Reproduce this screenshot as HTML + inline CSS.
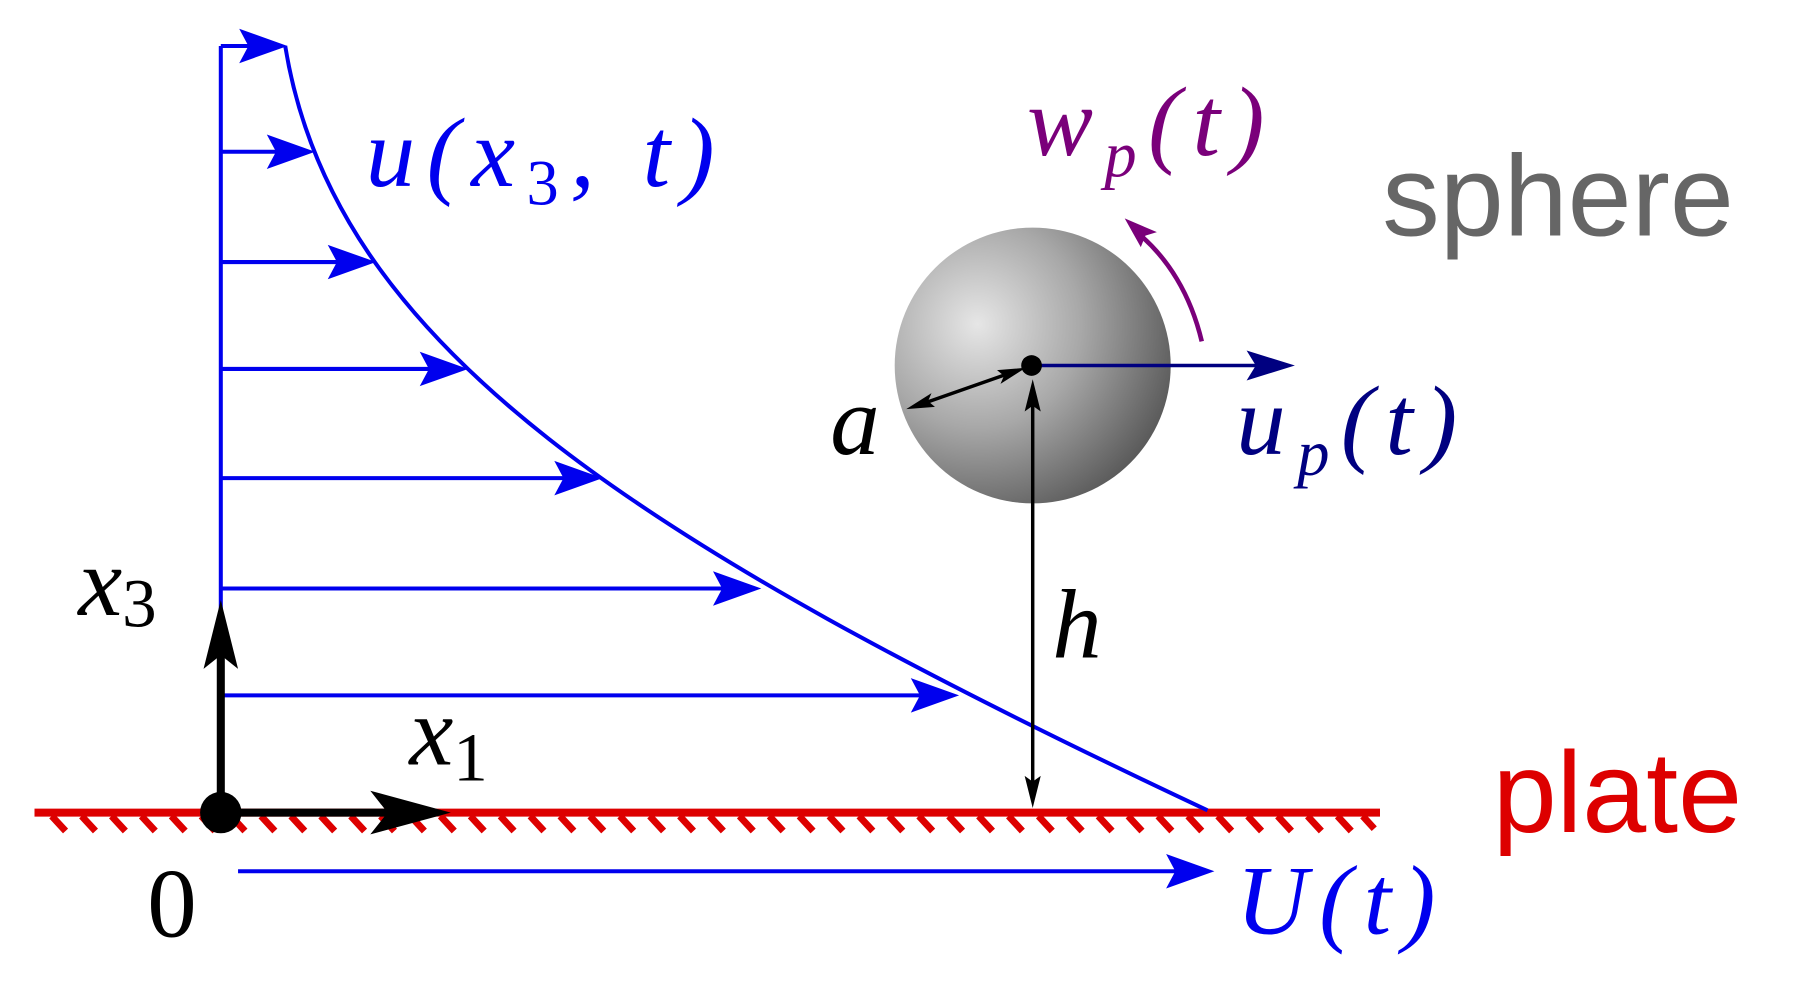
<!DOCTYPE html>
<html><head><meta charset="utf-8"><style>html,body{margin:0;padding:0;background:#fff;}svg{display:block}</style></head>
<body>
<svg width="1794" height="985" viewBox="0 0 1560 857" preserveAspectRatio="none" xmlns="http://www.w3.org/2000/svg">
<defs>
<radialGradient id="g" cx="0.3" cy="0.35" r="0.75">
<stop offset="0" stop-color="#e6e6e6"/><stop offset="0.5" stop-color="#a8a8a8"/><stop offset="1" stop-color="#5a5a5a"/>
</radialGradient>
</defs>
<!-- plate -->
<line x1="30" y1="707" x2="1200" y2="707" stroke="#dd0000" stroke-width="7"/>
<g stroke="#dd0000" stroke-width="6">
<path d="M45 710 l12 13 M71 710 l12 13 M97 710 l12 13 M123 710 l12 13 M149 710 l12 13 M175 710 l12 13 M201 710 l12 13 M227 710 l12 13 M253 710 l12 13 M279 710 l12 13 M305 710 l12 13 M331 710 l12 13 M357 710 l12 13 M383 710 l12 13 M409 710 l12 13 M435 710 l12 13 M461 710 l12 13 M487 710 l12 13 M513 710 l12 13 M539 710 l12 13 M565 710 l12 13 M591 710 l12 13 M617 710 l12 13 M643 710 l12 13 M669 710 l12 13 M695 710 l12 13 M721 710 l12 13 M747 710 l12 13 M773 710 l12 13 M799 710 l12 13 M825 710 l12 13 M851 710 l12 13 M877 710 l12 13 M903 710 l12 13 M929 710 l12 13 M955 710 l12 13 M981 710 l12 13 M1007 710 l12 13 M1033 710 l12 13 M1059 710 l12 13 M1085 710 l12 13 M1111 710 l12 13 M1137 710 l12 13 M1163 710 l12 13 M1185 710 l10 11"/>
</g>
<!-- velocity profile -->
<g stroke="#0000ee" stroke-width="3.5" fill="none">
<line x1="192" y1="40" x2="192" y2="610"/>
<path d="M248 40 C290 300 550 470 1050 705"/>
<line x1="192" y1="40" x2="230" y2="40"/>
<line x1="192" y1="132" x2="255" y2="132"/>
<line x1="192" y1="228" x2="305" y2="228"/>
<line x1="192" y1="321" x2="385" y2="321"/>
<line x1="192" y1="416" x2="502" y2="416"/>
<line x1="192" y1="512" x2="640" y2="512"/>
<line x1="192" y1="605" x2="812" y2="605"/>
<line x1="207" y1="758" x2="1035" y2="758"/>
</g>
<g fill="#0000ee">
<path d="M250 40 l-42 -15 l8 15 l-8 15z"/>
<path d="M274 132 l-42 -15 l8 15 l-8 15z"/>
<path d="M327 228 l-42 -15 l8 15 l-8 15z"/>
<path d="M407 321 l-42 -15 l8 15 l-8 15z"/>
<path d="M524 416 l-42 -15 l8 15 l-8 15z"/>
<path d="M662 512 l-42 -15 l8 15 l-8 15z"/>
<path d="M834 605 l-42 -15 l8 15 l-8 15z"/>
<path d="M1056 758 l-42 -15 l8 15 l-8 15z"/>
</g>
<!-- axes -->
<line x1="192" y1="707" x2="192" y2="560" stroke="#000" stroke-width="7"/>
<path d="M192 522 l-15 60 l15 -12 l15 12z" fill="#000"/>
<line x1="192" y1="707" x2="350" y2="707" stroke="#000" stroke-width="7"/>
<path d="M392 707 l-70 -19 l15 19 l-15 19z" fill="#000"/>
<circle cx="192" cy="707" r="18" fill="#000"/>
<!-- sphere -->
<circle cx="898" cy="318" r="120" fill="url(#g)"/>
<line x1="898" y1="318" x2="1100" y2="318" stroke="#000080" stroke-width="3"/>
<path d="M1126 318 l-42 -13 l8 13 l-8 13z" fill="#000080"/>
<path d="M1045 297 C1035 255 1015 225 992 205" stroke="#7a007a" stroke-width="4" fill="none"/>
<path d="M978 190 l28 12 l-10 3 l-4 10z" fill="#7a007a"/>
<circle cx="897" cy="318" r="9" fill="#000"/>
<line x1="800" y1="352" x2="880" y2="324" stroke="#000" stroke-width="3"/>
<path d="M788 356 l22 -14 l-3 7 l6 5z" fill="#000"/>
<path d="M892 320 l-22 14 l3 -7 l-6 -5z" fill="#000"/>
<line x1="898" y1="345" x2="898" y2="685" stroke="#000" stroke-width="3"/>
<path d="M898 330 l-7 28 l7 -5 l7 5z" fill="#000"/>
<path d="M898 703 l-7 -28 l7 5 l7 -5z" fill="#000"/>
<!-- labels -->
<g font-family="Liberation Serif, serif" font-style="italic">
<text x="318" y="162" font-size="86" letter-spacing="10" fill="#0000ee">u(x<tspan font-size="56" font-style="normal" dy="16">3</tspan><tspan dy="-16">, t)</tspan></text>
<text x="893" y="135" font-size="86" letter-spacing="10" fill="#7a007a">w<tspan font-size="56" dy="18">p</tspan><tspan dy="-18">(t)</tspan></text>
<text x="1075" y="395" font-size="86" letter-spacing="10" fill="#000080">u<tspan font-size="56" dy="18">p</tspan><tspan dy="-18">(t)</tspan></text>
<text x="722" y="395" font-size="86" fill="#000">a</text>
<text x="915" y="572" font-size="86" fill="#000">h</text>
<text x="68" y="535" font-size="86" fill="#000">x<tspan font-size="60" font-style="normal" dy="10">3</tspan></text>
<text x="356" y="665" font-size="86" fill="#000">x<tspan font-size="60" font-style="normal" dy="14">1</tspan></text>
<text x="1075" y="812" font-size="86" letter-spacing="10" fill="#0000ee">U(t)</text>
</g>
<text x="128" y="815" font-family="Liberation Serif, serif" font-size="86" fill="#000">0</text>
<text x="1202" y="205" font-family="Liberation Sans, sans-serif" font-size="100" fill="#666">sphere</text>
<text x="1298" y="724" font-family="Liberation Sans, sans-serif" font-size="100" fill="#dd0000">plate</text>
</svg>
</body></html>
